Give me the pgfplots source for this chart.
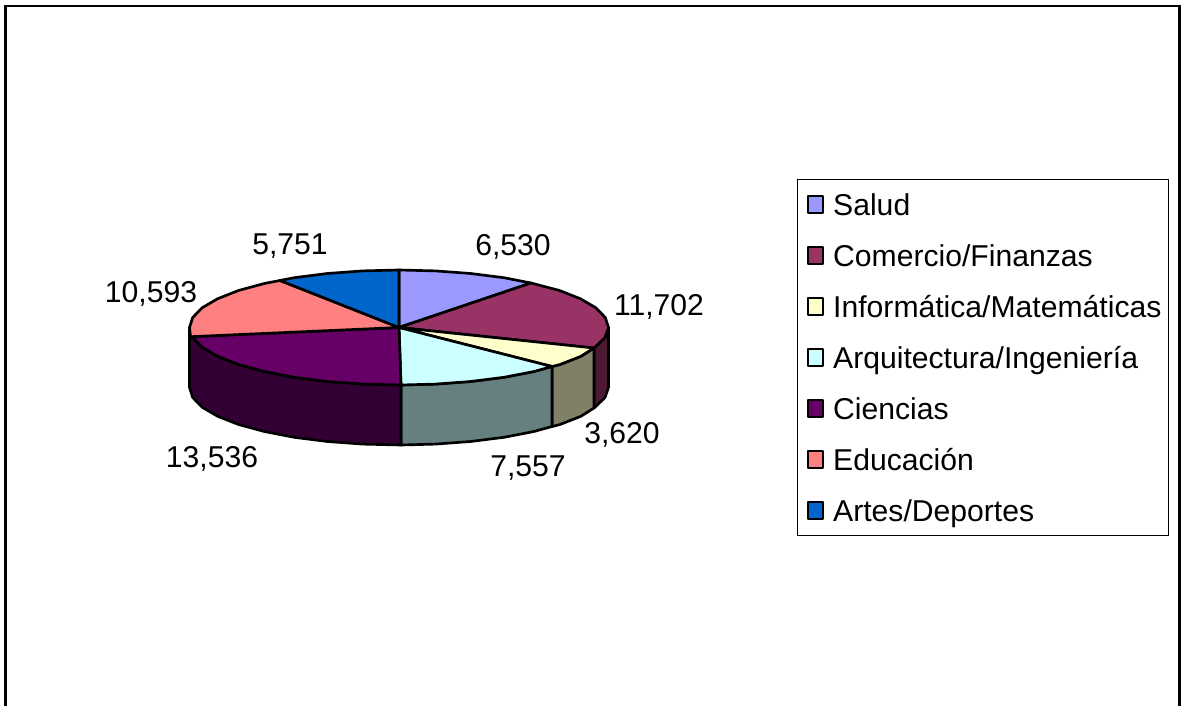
\documentclass[border=0pt]{standalone}
\usepackage{fontspec}
\setmainfont{Liberation Sans}
\usepackage{pgfplots}
\pgfplotsset{compat=1.18}
\definecolor{cSalud}{HTML}{9999FF}
\definecolor{cCom}{HTML}{993366}
\definecolor{cInf}{HTML}{FFFFCC}
\definecolor{cArq}{HTML}{CCFFFF}
\definecolor{cCie}{HTML}{660066}
\definecolor{cEdu}{HTML}{FF8080}
\definecolor{cArt}{HTML}{0066CC}
\definecolor{sCom}{HTML}{4C1933}
\definecolor{sInf}{HTML}{808066}
\definecolor{sArq}{HTML}{668080}
\definecolor{sCie}{HTML}{330033}
\pgfplotsset{
  wedge/.style={draw=black,line width=2pt,line join=round,fill=#1,mark=none,
    legend image code/.code={\path[draw=none,fill=none] (-3.75pt,0pt) -- (17.5pt,0pt);\draw[draw=black,line width=1.6pt,fill=#1] (0pt,-6.2pt) rectangle (11.5pt,6.2pt);}},
  side/.style={draw=black,line width=2pt,line join=round,fill=#1,mark=none,forget plot},
}
\begin{document}
\begin{tikzpicture}
\path[use as bounding box] (0,0) rectangle (887.25pt,529.5pt);
\begin{axis}[
  at={(0,0)},anchor=south west,
  scale only axis,width=887.25pt,height=529.5pt,
  xmin=0,xmax=1183,ymin=0,ymax=706,y dir=reverse,
  hide axis,clip=false,
  legend cell align=left,
  legend style={at={(axis cs:797,179)},anchor=north west,draw=black,line width=0.8pt,
    fill=white,inner xsep=4pt,inner ysep=4.85pt,row sep=10.25pt,
    font=\fontsize{22.6}{27}\selectfont,
    nodes={inner sep=1.5pt,text height=20.35pt,text depth=4.65pt}},
]
% frame
\addplot[black,line width=2.2pt,mark=none,forget plot] coordinates {(5.2,706)(5.2,6)(1179.5,6)(1179.5,706)};
% sides
\addplot[side=sCom] coordinates {(608.5,327.5)(605,337.5)(595,347.2)(594,348)(594,408)(595,407.2)(605,397.5)(608.5,387.5)} --cycle;
\addplot[side=sInf] coordinates {(594,348)(581,356.25)(560,364.5)(552,366.5)(552,426.5)(560,424.5)(581,416.25)(594,408)} --cycle;
\addplot[side=sArq] coordinates {(552,366.5)(534,371.5)(504,377.3)(470.6,381.5)(435.4,384.1)(401,385)(401,445)(435.4,444.1)(470.6,441.5)(504,437.3)(534,431.5)(552,426.5)} --cycle;
\addplot[side=sCie] coordinates {(401,385)(362.6,384.1)(327.4,381.5)(294.2,377.3)(264.3,371.5)(238.5,364.5)(217.6,356.25)(202.1,347.2)(192.7,337.5)(190.5,336.7)(189.5,327.5)(189.5,387.5)(192.7,397.5)(202.1,407.2)(217.6,416.25)(238.5,424.5)(264.3,431.5)(294.2,437.3)(327.4,441.5)(362.6,444.1)(401,445)} --cycle;
% tops
\addplot[wedge=cSalud] coordinates {(399,327.5)(399,270)(435.4,270.9)(470.6,273.5)(503.8,277.7)(531,283)} --cycle;
\addlegendentry{Salud}
\addplot[wedge=cCom] coordinates {(399,327.5)(531,283)(559.5,290.5)(580.4,298.75)(595.9,307.8)(605.3,317.5)(608.5,327.5)(605,337.5)(595,347.2)(594,348)} --cycle;
\addlegendentry{Comercio/Finanzas}
\addplot[wedge=cInf] coordinates {(399,327.5)(594,348)(581,356.25)(560,364.5)(552,366.5)} --cycle;
\addlegendentry{Informática/Matemáticas}
\addplot[wedge=cArq] coordinates {(399,327.5)(552,366.5)(534,371.5)(504,377.3)(470.6,381.5)(435.4,384.1)(401,385)} --cycle;
\addlegendentry{Arquitectura/Ingeniería}
\addplot[wedge=cCie] coordinates {(399,327.5)(401,385)(362.6,384.1)(327.4,381.5)(294.2,377.3)(264.3,371.5)(238.5,364.5)(217.6,356.25)(202.1,347.2)(192.7,337.5)(190.5,336.7)} --cycle;
\addlegendentry{Ciencias}
\addplot[wedge=cEdu] coordinates {(399,327.5)(190.5,336.7)(189.5,327.5)(192.7,317.5)(202.1,307.8)(217.6,298.75)(238.5,290.5)(264.3,283.5)(280,280.5)} --cycle;
\addlegendentry{Educación}
\addplot[wedge=cArt] coordinates {(399,327.5)(280,280.5)(294.2,277.7)(327.4,273.5)(362.6,270.9)(399,270)} --cycle;
\addlegendentry{Artes/Deportes}
% value labels
\begin{scope}[font=\fontsize{22.6}{27}\selectfont]
\node at (axis cs:513,246.5) {6,530};
\node at (axis cs:659,306.5) {11,702};
\node at (axis cs:622,434.5) {3,620};
\node at (axis cs:528,468.5) {7,557};
\node at (axis cs:212,458.5) {13,536};
\node at (axis cs:151,293.5) {10,593};
\node at (axis cs:290,246.5) {5,751};
\end{scope}
\end{axis}
\end{tikzpicture}
\end{document}
